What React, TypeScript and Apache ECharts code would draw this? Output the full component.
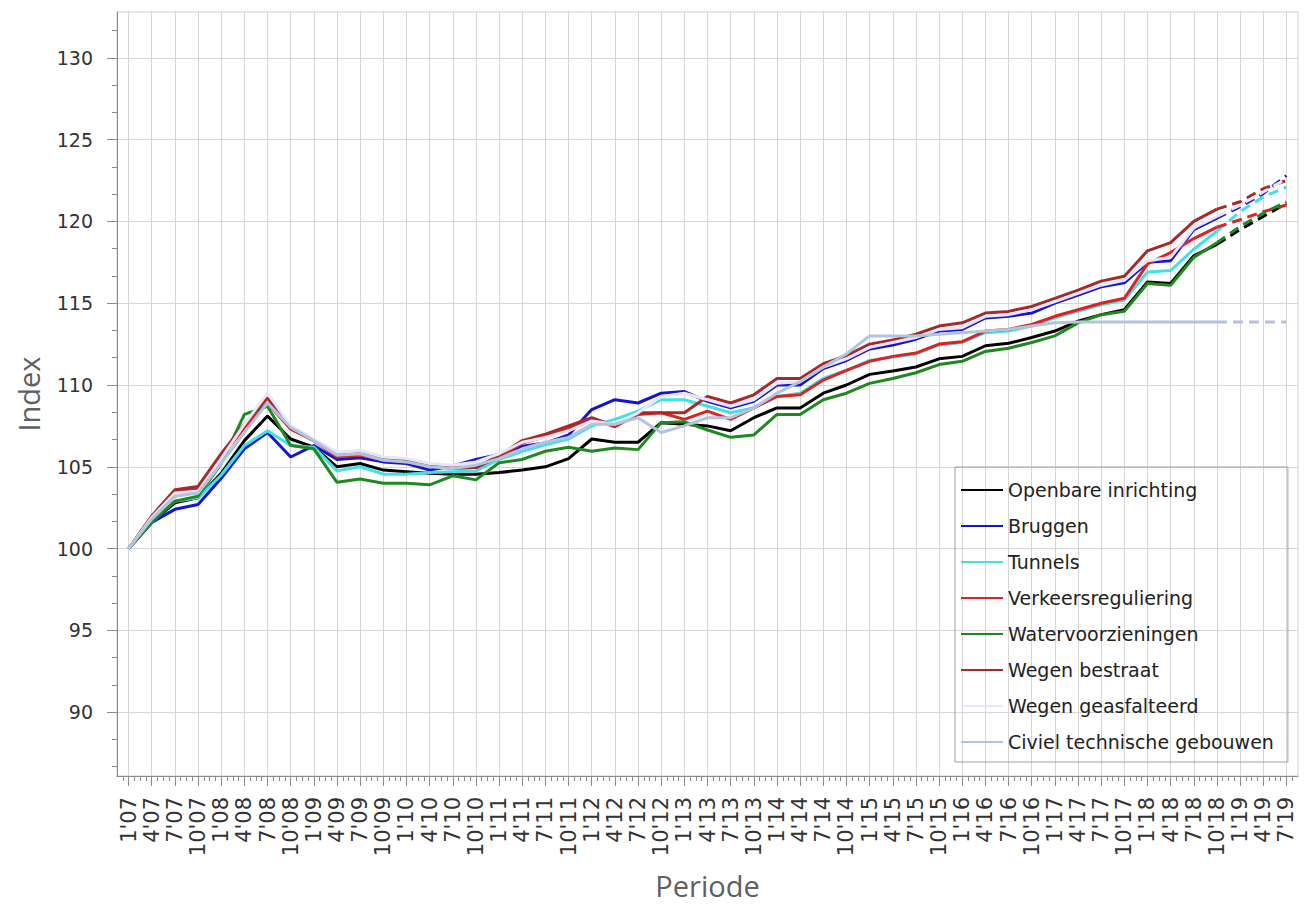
import React, { useEffect, useRef } from "react";
import * as echarts from "echarts";

const periods = [
  "1'07", "4'07", "7'07", "10'07", "1'08", "4'08", "7'08", "10'08",
  "1'09", "4'09", "7'09", "10'09", "1'10", "4'10", "7'10", "10'10",
  "1'11", "4'11", "7'11", "10'11", "1'12", "4'12", "7'12", "10'12",
  "1'13", "4'13", "7'13", "10'13", "1'14", "4'14", "7'14", "10'14",
  "1'15", "4'15", "7'15", "10'15", "1'16", "4'16", "7'16", "10'16",
  "1'17", "4'17", "7'17", "10'17", "1'18", "4'18", "7'18", "10'18",
  "1'19", "4'19", "7'19",
];

const openbare = [100, 101.6, 102.8, 103.1, 104.6, 106.6, 108.1, 106.7, 106.2, 105.0, 105.2, 104.8, 104.7, 104.6, 104.55, 104.55, 104.65, 104.8, 105.0, 105.5, 106.7, 106.5, 106.5, 107.7, 107.6, 107.5, 107.2, 108.0, 108.6, 108.6, 109.5, 110.0, 110.65, 110.85, 111.1, 111.6, 111.75, 112.4, 112.55, 112.9, 113.3, 113.9, 114.3, 114.6, 116.3, 116.2, 117.9, 118.6, 119.5, 120.3, 121.1];
const bruggen = [100, 101.6, 102.4, 102.7, 104.3, 106.1, 107.1, 105.6, 106.3, 105.45, 105.55, 105.3, 105.2, 104.8, 105.05, 105.45, 105.75, 106.25, 106.45, 106.95, 108.5, 109.1, 108.9, 109.5, 109.6, 109.0, 108.6, 109.0, 110.0, 110.0, 111.0, 111.5, 112.2, 112.45, 112.8, 113.3, 113.4, 114.1, 114.2, 114.4, 115.0, 115.5, 116.0, 116.25, 117.5, 117.6, 119.5, 120.2, 120.9, 121.7, 122.8];
const tunnels = [100, 101.7, 102.9, 103.1, 104.5, 106.3, 107.2, 106.3, 106.2, 104.75, 105.0, 104.55, 104.55, 104.65, 104.7, 104.75, 105.45, 105.95, 106.35, 106.7, 107.5, 107.9, 108.4, 109.1, 109.1, 108.7, 108.3, 108.6, 109.3, 109.5, 110.4, 110.9, 111.5, 111.7, 111.9, 112.45, 112.6, 113.2, 113.3, 113.6, 114.1, 114.5, 114.9, 115.2, 116.9, 117.0, 118.3, 119.4, 120.6, 121.5, 122.1];
const verkeers = [100, 101.9, 103.5, 103.7, 105.6, 107.4, 108.9, 107.3, 106.6, 105.6, 105.7, 105.45, 105.3, 105.05, 104.9, 104.95, 105.6, 106.45, 106.85, 107.35, 107.95, 107.45, 108.2, 108.3, 107.9, 108.4, 107.9, 108.6, 109.3, 109.4, 110.3, 110.9, 111.45, 111.75, 111.95, 112.5, 112.65, 113.3, 113.4, 113.7, 114.2, 114.6, 115.0, 115.3, 117.4, 118.1, 118.95, 119.65, 120.1, 120.6, 121.0];
const water = [100, 101.6, 102.9, 103.2, 105.2, 108.2, 108.7, 106.3, 106.1, 104.05, 104.25, 104.0, 104.0, 103.9, 104.45, 104.2, 105.25, 105.45, 105.95, 106.2, 105.95, 106.15, 106.05, 107.7, 107.75, 107.25, 106.8, 106.95, 108.2, 108.2, 109.1, 109.5, 110.1, 110.4, 110.75, 111.25, 111.45, 112.05, 112.25, 112.6, 113.0, 113.8, 114.3, 114.5, 116.2, 116.1, 117.8, 118.7, 119.7, 120.5, 121.2];
const bestraat = [100, 102.0, 103.6, 103.8, 105.8, 107.6, 109.2, 107.4, 106.6, 105.7, 105.8, 105.55, 105.45, 105.15, 104.95, 104.95, 105.7, 106.6, 107.0, 107.5, 108.0, 107.5, 108.3, 108.3, 108.3, 109.3, 108.9, 109.4, 110.4, 110.4, 111.3, 111.8, 112.5, 112.75, 113.1, 113.6, 113.8, 114.4, 114.5, 114.8, 115.3, 115.8, 116.35, 116.65, 118.2, 118.7, 120.0, 120.75, 121.2, 122.0, 122.5];
const geasfalteerd = [100, 101.9, 103.4, 103.5, 105.5, 107.6, 109.5, 107.5, 106.7, 105.9, 106.0, 105.6, 105.5, 105.2, 105.1, 105.3, 105.8, 106.5, 106.8, 107.2, 107.8, 107.6, 108.3, 109.3, 109.5, 109.1, 108.7, 109.1, 110.1, 110.2, 111.1, 111.6, 112.3, 112.6, 112.9, 113.4, 113.5, 114.2, 114.3, 114.6, 115.1, 115.6, 116.1, 116.4, 117.6, 117.8, 119.6, 120.3, 121.0, 121.8, 122.6];
const civiel = [100, 101.8, 103.2, 103.4, 105.2, 107.1, 108.9, 107.4, 106.6, 105.7, 105.8, 105.4, 105.3, 105.0, 104.9, 105.1, 105.5, 106.1, 106.5, 106.8, 107.6, 107.6, 108.0, 107.1, 107.5, 108.0, 108.0, 108.6, 109.5, 110.2, 111.1, 111.9, 113.0, 113.0, 113.0, 113.1, 113.2, 113.3, 113.4, 113.6, 113.8, 113.85, 113.85, 113.85, 113.85, 113.85, 113.85, 113.85, 113.85, 113.85, 113.85];

const seriesNames = [
  "Openbare inrichting",
  "Bruggen",
  "Tunnels",
  "Verkeersreguliering",
  "Watervoorzieningen",
  "Wegen bestraat",
  "Wegen geasfalteerd",
  "Civiel technische gebouwen",
];
const seriesValues = [openbare, bruggen, tunnels, verkeers, water, bestraat, geasfalteerd, civiel];
const seriesColors = ["#000000", "#1414d2", "#40e0e6", "#dd2222", "#1e8a1e", "#a52a2a", "#e6e6fa", "#b0c4de"];

const yMajorTicks = [90, 95, 100, 105, 110, 115, 120, 125, 130];
const forecastStart = 47; // 10'18: dashed from here

const FONT = "DejaVu Sans";

export default function App() {
  const ref = useRef<HTMLDivElement>(null);

  useEffect(() => {
    const chart = echarts.init(ref.current!, null, { renderer: "svg" });

    const yMin = 86.1;
    const yMax = 132.8;
    const yMinor: number[] = [];
    for (let k = 52; k <= 79; k++) {
      const v = (k * 5) / 3;
      if (k % 3 !== 0 && v > yMin && v < yMax) yMinor.push(Math.round(v * 1000) / 1000);
    }
    const n = periods.length;
    const xMajor: number[] = periods.map((_, i) => i);
    const xMinor: number[] = [];
    for (let i = -1; i < n; i++) {
      for (const f of [0.25, 0.5, 0.75]) {
        const v = i + f;
        if (v > -0.5 && v < n - 0.5) xMinor.push(v);
      }
    }

    const series: any[] = [];
    seriesNames.forEach((name, k) => {
      const vals = seriesValues[k];
      series.push({
        name,
        type: "line",
        data: vals.map((v, i) => (i <= forecastStart ? v : null)),
        symbol: "none",
        showSymbol: false,
        connectNulls: false,
        lineStyle: { width: 3, color: seriesColors[k] },
        itemStyle: { color: seriesColors[k] },
        z: 2 + k,
      });
      series.push({
        name,
        type: "line",
        data: vals.map((v, i) => (i >= forecastStart ? v : null)),
        symbol: "none",
        showSymbol: false,
        connectNulls: false,
        lineStyle: { width: 3, color: seriesColors[k], type: [10, 6] },
        itemStyle: { color: seriesColors[k] },
        z: 2 + k,
      });
    });

    const axisGray = "#8c8c8c";
    const gridGray = "#d6d6d6";
    const hidden = { show: false, lineStyle: { opacity: 0 } };

    chart.setOption({
      animation: false,
      backgroundColor: "#ffffff",
      grid: {
        left: 117,
        top: 12,
        right: 9,
        bottom: 129,
        show: true,
        borderColor: "#cfcfcf",
        borderWidth: 1,
        backgroundColor: "transparent",
        containLabel: false,
        outerBoundsMode: "none",
      },
      legend: {
        data: seriesNames,
        orient: "vertical",
        left: 955,
        top: 467,
        icon: "rect",
        itemWidth: 42,
        itemHeight: 2,
        itemGap: 14,
        padding: [12, 14, 9, 6],
        borderColor: "#a0a0a0",
        borderWidth: 1,
        backgroundColor: "transparent",
        selectedMode: false,
        textStyle: { fontFamily: FONT, fontSize: 19, color: "#222222", lineHeight: 22 },
      },
      xAxis: [
        {
          type: "category",
          data: periods,
          boundaryGap: true,
          position: "bottom",
          axisLine: { show: true, onZero: false, lineStyle: { color: axisGray, width: 1 } },
          axisTick: { show: false },
          axisLabel: {
            interval: 0,
            rotate: 90,
            margin: 21,
            fontFamily: FONT,
            fontSize: 21,
            color: "#333333",
          },
          splitLine: hidden,
          minorSplitLine: hidden,
          name: "Periode",
          nameLocation: "middle",
          nameGap: 95,
          nameTextStyle: { fontFamily: "Open Sans", fontSize: 29, color: "#606060" },
        },
        {
          type: "value",
          min: -0.5,
          max: n - 0.5,
          position: "bottom",
          axisLine: { show: false, onZero: false },
          axisTick: { show: true, customValues: xMajor, length: 10, lineStyle: { color: axisGray } },
          axisLabel: { show: false },
          splitLine: { show: true, lineStyle: { color: gridGray, width: 1 } },
          minorSplitLine: hidden,
        },
        {
          type: "value",
          min: -0.5,
          max: n - 0.5,
          position: "bottom",
          axisLine: { show: false, onZero: false },
          axisTick: { show: true, customValues: xMinor, length: 5, lineStyle: { color: axisGray } },
          axisLabel: { show: false },
          splitLine: hidden,
          minorSplitLine: hidden,
        },
      ],
      yAxis: [
        {
          type: "value",
          min: yMin,
          max: yMax,
          position: "left",
          axisLine: { show: true, onZero: false, lineStyle: { color: axisGray, width: 1 } },
          axisTick: { show: true, customValues: yMajorTicks, length: 10, lineStyle: { color: axisGray } },
          axisLabel: {
            customValues: yMajorTicks,
            margin: 24,
            fontFamily: FONT,
            fontSize: 19,
            color: "#333333",
          },
          splitLine: { show: true, lineStyle: { color: gridGray, width: 1 } },
          name: "Index",
          nameLocation: "middle",
          nameGap: 74,
          nameTextStyle: { fontFamily: "Open Sans", fontSize: 29, color: "#606060" },
        },
        {
          type: "value",
          min: yMin,
          max: yMax,
          position: "left",
          axisLine: { show: false, onZero: false },
          axisTick: { show: true, customValues: yMinor, length: 5, lineStyle: { color: axisGray } },
          axisLabel: { show: false },
          splitLine: hidden,
          minorSplitLine: hidden,
        },
      ],
      series,
    });

    return () => chart.dispose();
  }, []);

  return (
    <div
      ref={ref}
      style={{ position: "absolute", left: 0, top: 0, width: 1307, height: 905 }}
    />
  );
}
